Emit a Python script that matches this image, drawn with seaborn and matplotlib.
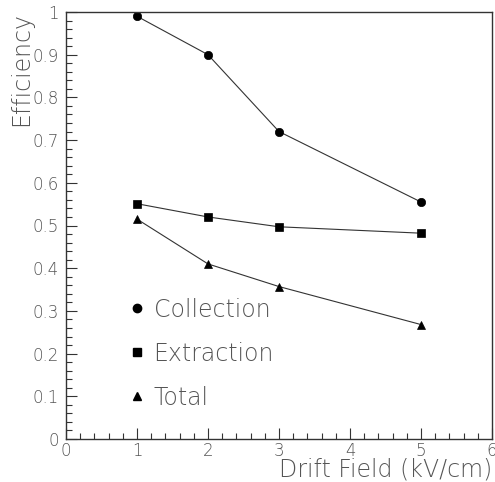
import matplotlib
matplotlib.use("Agg")
import matplotlib.pyplot as plt
from matplotlib.lines import Line2D
from matplotlib.ticker import MultipleLocator
import seaborn as sns
import pandas as pd

drift_field = [1, 2, 3, 5]
collection = [0.99, 0.90, 0.72, 0.555]
extraction = [0.551, 0.520, 0.497, 0.482]
total = [0.515, 0.410, 0.357, 0.268]
series_names = ["Collection", "Extraction", "Total"]
series_markers = ["o", "s", "^"]

sns.set_theme(style="white")
plt.rcParams['font.family'] = ['DejaVu Sans']

fig = plt.figure(figsize=(4.95, 4.82), dpi=100)
ax = fig.add_axes([66/495, 1-439/482, 426/495, 427/482])

line_col = "#333333"
for vals, name, mk in zip([collection, extraction, total], series_names, series_markers):
    df = pd.DataFrame({"x": drift_field, "y": vals})
    sns.lineplot(data=df, x="x", y="y", ax=ax, color=line_col, linewidth=0.8,
                 marker=mk, markersize=6 if mk != "s" else 5.5, markerfacecolor="black",
                 markeredgecolor="black", markeredgewidth=0.5)

ax.set_xlim(0, 6)
ax.set_ylim(0, 1)
ax.xaxis.set_major_locator(MultipleLocator(1))
ax.xaxis.set_minor_locator(MultipleLocator(0.2))
ax.yaxis.set_minor_locator(MultipleLocator(0.02))
ax.set_yticks([i/10 for i in range(11)])
ax.set_yticklabels(["0", "0.1", "0.2", "0.3", "0.4", "0.5", "0.6", "0.7", "0.8", "0.9", "1"])

txt_col = "#555555"
ax.tick_params(which="both", direction="in", bottom=True, left=True, top=False, right=False,
               colors="#333333", labelcolor=txt_col, labelsize=12, width=0.8)
ax.tick_params(which="major", length=8, pad=5)
ax.tick_params(axis="x", which="major", pad=2)
ax.tick_params(which="minor", length=4)
for lab in ax.get_xticklabels() + ax.get_yticklabels():
    lab.set_fontweight("light")
for sp in ax.spines.values():
    sp.set_color("#333333")
    sp.set_linewidth(1.0)

ax.set_xlabel("Drift Field (kV/cm)", loc="right", fontsize=17, color=txt_col,
              fontweight="light", labelpad=-2)
ax.set_ylabel("Efficiency", loc="top", fontsize=17, color=txt_col,
              fontweight="light", labelpad=0)

handles = [Line2D([], [], linestyle="none", marker=mk, color="black",
                  markersize=6 if mk != "s" else 5.5) for mk in series_markers]
leg = ax.legend(handles, series_names, loc="center left", bbox_to_anchor=(0.150, 0.2),
                frameon=False, fontsize=17, handlelength=0.6, handletextpad=0.4,
                labelspacing=0.85, borderpad=0, borderaxespad=0)
for t in leg.get_texts():
    t.set_color(txt_col)
    t.set_fontweight("light")

fig.savefig("out.png", dpi=100)
